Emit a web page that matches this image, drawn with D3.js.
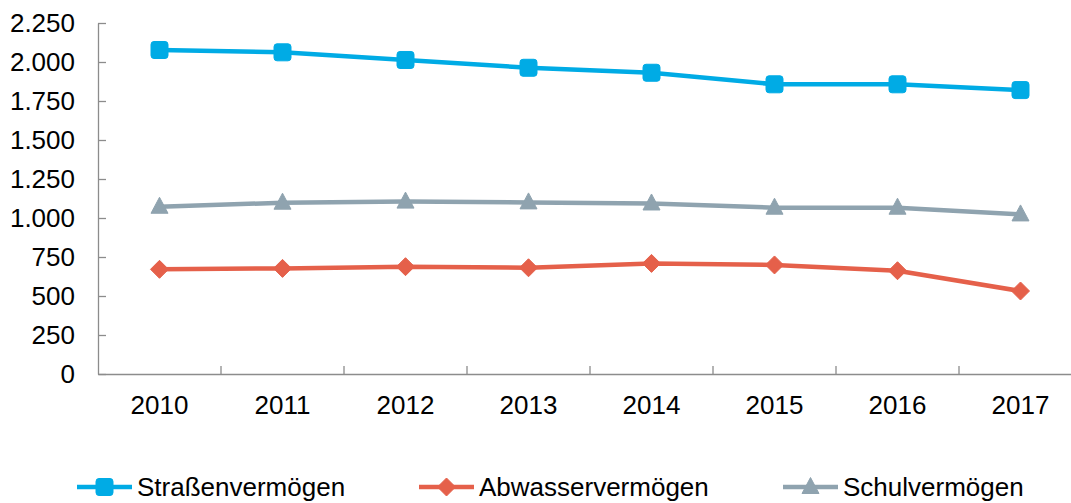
<!DOCTYPE html>
<html>
<head>
<meta charset="utf-8">
<script src="https://cdn.jsdelivr.net/npm/d3@7"></script>
<style>
  html, body { margin: 0; padding: 0; background: #fff; }
  svg { display: block; font-family: "Liberation Sans", Arial, sans-serif; }
</style>
</head>
<body>
<svg id="chart" width="1071" height="503"></svg>
<script>
const years = ["2010", "2011", "2012", "2013", "2014", "2015", "2016", "2017"];
const strassen = [2077, 2062, 2013, 1963, 1931, 1857, 1857, 1820];
const abwasser = [671, 677, 688, 681, 709, 699, 662, 532];
const schul = [1072, 1098, 1105, 1100, 1093, 1066, 1066, 1023];
const yTicks = [0, 250, 500, 750, 1000, 1250, 1500, 1750, 2000, 2250];
const seriesNames = ["Straßenvermögen", "Abwasservermögen", "Schulvermögen"];

(function () {
const series = [
  { name: seriesNames[0], values: strassen, color: "#00ABE5", marker: "square" },
  { name: seriesNames[1], values: abwasser, color: "#E5604A", marker: "diamond" },
  { name: seriesNames[2], values: schul, color: "#8FA3AF", marker: "triangle" }
];

const svg = d3.select("#chart");
const mLeft = 98, mRight = 1082, mTop = 23, mBottom = 374;

const x = d3.scaleBand().domain(years).range([mLeft, mRight]).paddingInner(0).paddingOuter(0);
const y = d3.scaleLinear().domain([0, 2250]).range([mBottom, mTop]);

const de = d3.formatLocale({ decimal: ",", thousands: ".", grouping: [3], currency: ["", " €"] });
const fmt = de.format(",d");

const axisColor = "#8c8c8c";

// Y axis
const yAxis = svg.append("g")
  .attr("transform", `translate(${mLeft},0)`)
  .call(d3.axisLeft(y).tickValues(yTicks).tickFormat(fmt).tickSizeInner(-8).tickSizeOuter(0).tickPadding(23));
yAxis.select(".domain").attr("stroke", axisColor).attr("stroke-width", 1.3);
yAxis.selectAll(".tick line").attr("stroke", axisColor).attr("stroke-width", 1.3);
yAxis.selectAll("text").attr("fill", "#000").style("font-size", "26px");

// X axis labels
const xAxis = svg.append("g")
  .attr("transform", `translate(0,${mBottom})`)
  .call(d3.axisBottom(x).tickSize(0).tickPadding(22));
xAxis.select(".domain").attr("stroke", axisColor).attr("stroke-width", 1.3);
xAxis.selectAll("text").attr("fill", "#000").style("font-size", "26px");

// X boundary ticks
svg.append("g").selectAll("line")
  .data(years.slice(1))
  .join("line")
  .attr("x1", d => x(d)).attr("x2", d => x(d))
  .attr("y1", mBottom).attr("y2", mBottom - 8)
  .attr("stroke", axisColor).attr("stroke-width", 1.3);

const cx = d => x(d) + x.bandwidth() / 2;

function markerPath(type, size) {
  const s = size / 2;
  if (type === "square") {
    const r = 3;
    return `M${-s + r},${-s} H${s - r} Q${s},${-s} ${s},${-s + r} V${s - r} Q${s},${s} ${s - r},${s} H${-s + r} Q${-s},${s} ${-s},${s - r} V${-s + r} Q${-s},${-s} ${-s + r},${-s} Z`;
  }
  if (type === "diamond") {
    return `M0,${-s} L${s},0 L0,${s} L${-s},0 Z`;
  }
  return `M0,${-s - 1} L${s},${s - 2} L${-s},${s - 2} Z`;
}

const line = d3.line().x(d => cx(d.year)).y(d => y(d.value));

series.forEach(s => {
  const pts = years.map((yr, i) => ({ year: yr, value: s.values[i] }));
  const g = svg.append("g");
  g.append("path")
    .datum(pts)
    .attr("d", line)
    .attr("fill", "none")
    .attr("stroke", s.color)
    .attr("stroke-width", 4.5)
    .attr("stroke-linejoin", "round");
  g.selectAll("path.m")
    .data(pts)
    .join("path")
    .attr("class", "m")
    .attr("transform", d => `translate(${cx(d.year)},${y(d.value)})`)
    .attr("d", markerPath(s.marker, s.marker === "diamond" ? 18 : 17))
    .attr("fill", s.color)
    .attr("stroke", s.color)
    .attr("stroke-width", 1)
    .attr("stroke-linejoin", "round");
});

// Legend
const legendX = [77, 419, 783];
const legendY = 487;
const legend = svg.append("g");
series.forEach((s, i) => {
  const g = legend.append("g").attr("transform", `translate(${legendX[i]},${legendY})`);
  g.append("line").attr("x1", 0).attr("x2", 55).attr("y1", 0).attr("y2", 0)
    .attr("stroke", s.color).attr("stroke-width", 4.5);
  g.append("path").attr("transform", "translate(27.5,0)")
    .attr("d", markerPath(s.marker, s.marker === "diamond" ? 18 : 17))
    .attr("fill", s.color).attr("stroke", s.color).attr("stroke-width", 1);
  g.append("text").attr("x", 60).attr("y", 0).attr("dy", "0.35em")
    .style("font-size", "26px").attr("fill", "#000")
    .text(s.name);
});
})();
</script>
</body>
</html>
